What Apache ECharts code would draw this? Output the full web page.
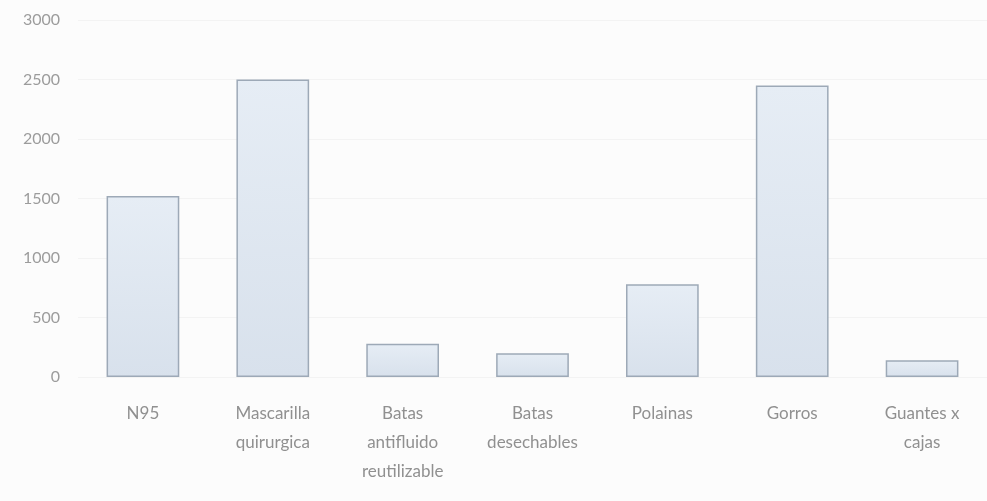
<!DOCTYPE html>
<html>
<head>
<meta charset="utf-8">
<script src="https://cdn.jsdelivr.net/npm/echarts@6/dist/echarts.min.js"></script>
<style>
  html, body { margin: 0; padding: 0; background: #fcfcfc; }
  #chart { width: 987px; height: 501px; }
</style>
</head>
<body>
<div id="chart"></div>
<script>
// categories and values
const categories = [
  'N95',
  'Mascarilla\nquirurgica',
  'Batas\nantifluido\nreutilizable',
  'Batas\ndesechables',
  'Polainas',
  'Gorros',
  'Guantes x\ncajas'
];
const values = [1520, 2500, 280, 200, 780, 2450, 140];
const yTicks = { min: 0, max: 3000, interval: 500 };

const chart = echarts.init(document.getElementById('chart'), null, { renderer: 'canvas' });

chart.setOption({
  backgroundColor: '#fcfcfc',
  animation: false,
  grid: { left: 78, right: -12, top: 20, bottom: 124 },
  xAxis: {
    type: 'category',
    data: categories,
    axisLine: { show: false },
    axisTick: { show: false },
    axisLabel: {
      color: '#909090',
      fontFamily: 'Lato',
      fontSize: 17,
      lineHeight: 29,
      margin: 22,
      interval: 0
    }
  },
  yAxis: {
    type: 'value',
    min: yTicks.min,
    max: yTicks.max,
    interval: yTicks.interval,
    axisLine: { show: false },
    axisTick: { show: false },
    splitLine: { lineStyle: { color: '#f3f3f3', width: 1 } },
    axisLabel: {
      color: '#9c9c9c',
      fontFamily: 'Lato',
      fontSize: 16,
      margin: 18,
      formatter: v => String(v)
    }
  },
  series: [{
    type: 'bar',
    data: values,
    barWidth: '56%',
    itemStyle: {
      color: new echarts.graphic.LinearGradient(0, 0, 0, 1, [
        { offset: 0, color: '#e6edf5' },
        { offset: 1, color: '#d8e1ec' }
      ]),
      borderColor: '#9da9b7',
      borderWidth: 1.5
    }
  }]
});
</script>
</body>
</html>
